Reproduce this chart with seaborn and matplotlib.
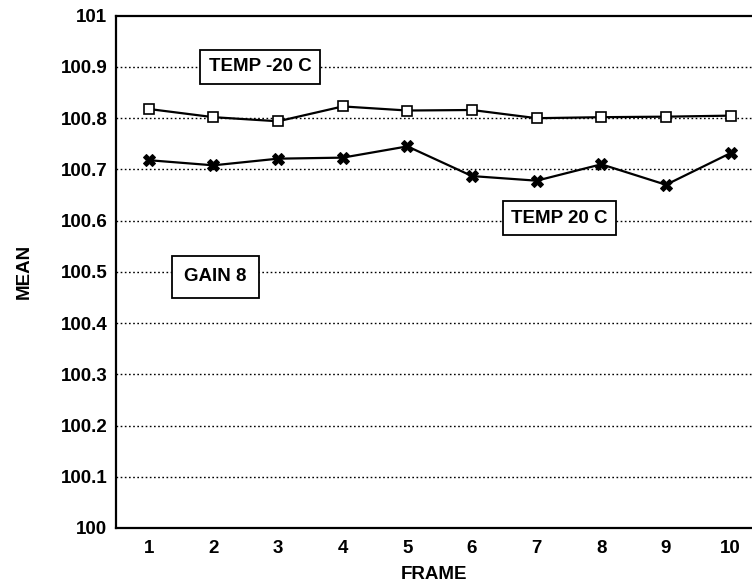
import matplotlib
matplotlib.use("Agg")
import matplotlib.pyplot as plt
import seaborn as sns
import pandas as pd

frames = [1, 2, 3, 4, 5, 6, 7, 8, 9, 10]
mean_cold = [100.818, 100.802, 100.794, 100.823, 100.815, 100.816, 100.800, 100.802, 100.803, 100.805]
mean_warm = [100.718, 100.708, 100.721, 100.723, 100.745, 100.687, 100.678, 100.710, 100.670, 100.732]
y_ticks = [100.0, 100.1, 100.2, 100.3, 100.4, 100.5, 100.6, 100.7, 100.8, 100.9, 101.0]
y_tick_labels = ["100", "100.1", "100.2", "100.3", "100.4", "100.5",
                 "100.6", "100.7", "100.8", "100.9", "101"]

sns.set_theme(style="white")
plt.rcParams["font.family"] = ["Liberation Sans", "DejaVu Sans"]
plt.rcParams["font.weight"] = "bold"
plt.rcParams["text.color"] = "black"
plt.rcParams["axes.labelcolor"] = "black"

df = pd.DataFrame({
    "FRAME": frames * 2,
    "MEAN": mean_cold + mean_warm,
    "series": ["TEMP -20 C"] * len(frames) + ["TEMP 20 C"] * len(frames),
})

fig = plt.figure(figsize=(7.52, 5.84), dpi=100)
ax = fig.add_axes([0.154, 0.096, 0.846, 0.877])

for y in y_ticks[1:-1]:
    ax.axhline(y, color="black", linestyle=(0, (1.2, 1.8)), linewidth=1.0, zorder=1)

sns.lineplot(data=df[df.series == "TEMP -20 C"], x="FRAME", y="MEAN", ax=ax,
             color="black", linewidth=1.6, marker="s", markersize=7,
             markerfacecolor="white", markeredgecolor="black", markeredgewidth=1.2,
             legend=False, zorder=3)
sns.lineplot(data=df[df.series == "TEMP 20 C"], x="FRAME", y="MEAN", ax=ax,
             color="black", linewidth=1.6, marker="X", markersize=9,
             markerfacecolor="black", markeredgecolor="black",
             legend=False, zorder=3)

fs = 13.5
ax.set_xlim(0.49, 10.33)
ax.set_ylim(100.0, 101.0)
ax.set_xticks(frames)
ax.set_xticklabels([str(f) for f in frames], fontsize=fs, fontweight="bold", color="black")
ax.set_yticks(y_ticks)
ax.set_yticklabels(y_tick_labels, fontsize=fs, fontweight="bold", color="black")
ax.tick_params(axis="y", direction="inout", length=8, width=1.2, colors="black", pad=2)
ax.tick_params(axis="x", direction="inout", length=6, width=1.2, colors="black", pad=6)
ax.set_xlabel("FRAME", fontsize=fs, fontweight="bold", color="black", labelpad=6)
ax.set_ylabel("MEAN", fontsize=fs, fontweight="bold", color="black", labelpad=20)

for side in ["left", "bottom", "top"]:
    ax.spines[side].set_visible(True)
    ax.spines[side].set_color("black")
    ax.spines[side].set_linewidth(1.6)
ax.spines["right"].set_visible(False)

box = dict(boxstyle="square,pad=0.45", facecolor="white", edgecolor="black", linewidth=1.3)
ax.text(2.72, 100.9, "TEMP -20 C", fontsize=fs, fontweight="bold", ha="center", va="center",
        color="black", bbox=box, zorder=4)
ax.text(7.35, 100.605, "TEMP 20 C", fontsize=fs, fontweight="bold", ha="center", va="center",
        color="black", bbox=box, zorder=4)
ax.text(2.03, 100.49, "GAIN 8", fontsize=fs, fontweight="bold", ha="center", va="center",
        color="black",
        bbox=dict(boxstyle="square,pad=0.65", facecolor="white", edgecolor="black", linewidth=1.3),
        zorder=4)

fig.savefig("out.png", dpi=100)
